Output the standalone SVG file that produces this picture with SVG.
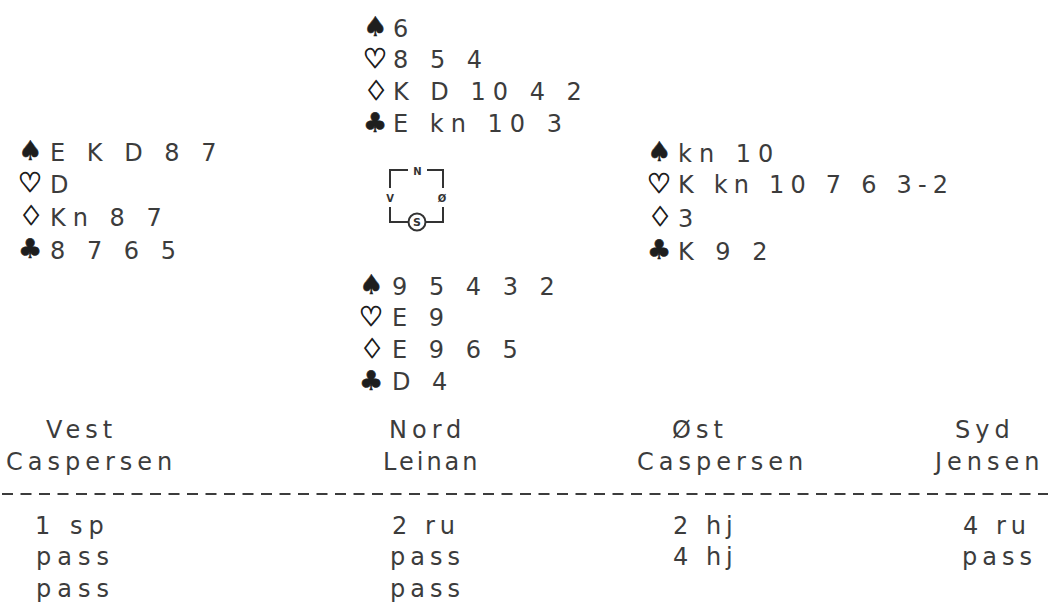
<svg xmlns="http://www.w3.org/2000/svg" width="1055" height="604" viewBox="0 0 1055 604">
<style>
.t{font-family:"DejaVu Sans","Liberation Sans",sans-serif;font-size:24px;letter-spacing:7px;fill:#3c3c3c}
.b{font-family:"DejaVu Sans","Liberation Sans",sans-serif;font-size:24px;letter-spacing:5px;fill:#3c3c3c}
.s{font-family:"DejaVu Sans","Noto Sans",sans-serif;font-size:27px;fill:#1e1e1e;stroke:#1e1e1e;stroke-width:0.6}
.o{font-family:"DejaVu Sans","Noto Sans",sans-serif;font-size:27px;fill:#1e1e1e;stroke:#1e1e1e;stroke-width:1}
.c{font-family:"DejaVu Sans","Liberation Sans",sans-serif;font-weight:bold;fill:#333;text-anchor:middle}
.ln{fill:none;stroke:#333;stroke-width:2}
</style>
<rect width="1055" height="604" fill="#fff"/>
<g id="north">
<text class="s" x="363" y="36">♠</text><text class="t" x="393" y="37">6</text>
<text class="o" x="363" y="68">♡</text><text class="t" x="393" y="68">8 5 4</text>
<text class="o" x="364" y="100">♢</text><text class="t" x="393" y="100">K D 10 4 2</text>
<text class="s" x="363" y="132">♣</text><text class="t" x="393" y="132">E kn 10 3</text>
</g>
<g id="west">
<text class="s" x="18" y="160">♠</text><text class="t" x="50" y="161">E K D 8 7</text>
<text class="o" x="18" y="192">♡</text><text class="t" x="50" y="193">D</text>
<text class="o" x="19" y="225">♢</text><text class="t" x="50" y="226">Kn 8 7</text>
<text class="s" x="18" y="258">♣</text><text class="t" x="50" y="259">8 7 6 5</text>
</g>
<g id="east">
<text class="s" x="647" y="161">♠</text><text class="t" x="678" y="162">kn 10</text>
<text class="o" x="647" y="193">♡</text><text class="t" x="678" y="193" style="letter-spacing:6.2px">K kn 10 7 6 3-2</text>
<text class="o" x="648" y="226">♢</text><text class="t" x="678" y="227">3</text>
<text class="s" x="647" y="259">♣</text><text class="t" x="678" y="260">K 9 2</text>
</g>
<g id="south">
<text class="s" x="359" y="294">♠</text><text class="t" x="392" y="295">9 5 4 3 2</text>
<text class="o" x="359" y="326">♡</text><text class="t" x="392" y="326">E 9</text>
<text class="o" x="360" y="358">♢</text><text class="t" x="392" y="358">E 9 6 5</text>
<text class="s" x="359" y="390">♣</text><text class="t" x="392" y="390">D 4</text>
</g>
<g id="compass">
<path class="ln" d="M390,188V170H408M427,170H443V188M390,207V222H408M426,222H443V207"/>
<circle class="ln" cx="417" cy="222" r="8.5" stroke-width="1.6"/>
<text class="c" x="417.5" y="175" font-size="10">N</text>
<text class="c" x="390" y="202" font-size="10">V</text>
<text class="c" x="442" y="202" font-size="10">Ø</text>
<text class="c" x="417" y="226" font-size="11">S</text>
</g>
<g id="bidding">
<text class="b" x="46" y="438">Vest</text>
<text class="b" x="6" y="470">Caspersen</text>
<text class="b" x="389" y="438">Nord</text>
<text class="b" x="383" y="470" style="letter-spacing:3px">Leinan</text>
<text class="b" x="672" y="438">Øst</text>
<text class="b" x="637" y="470">Caspersen</text>
<text class="b" x="955" y="438">Syd</text>
<text class="b" x="935" y="470">Jensen</text>
<line x1="2" y1="494" x2="1048" y2="494" stroke="#3c3c3c" stroke-width="2" stroke-dasharray="11 7.5"/>
<text class="b" x="35" y="534" style="letter-spacing:6px">1 sp</text>
<text class="b" x="36" y="565" style="letter-spacing:6px">pass</text>
<text class="b" x="36" y="597" style="letter-spacing:6px">pass</text>
<text class="b" x="392" y="534">2 ru</text>
<text class="b" x="390" y="565">pass</text>
<text class="b" x="390" y="597">pass</text>
<text class="b" x="673" y="534">2 hj</text>
<text class="b" x="673" y="565">4 hj</text>
<text class="b" x="963" y="534">4 ru</text>
<text class="b" x="962" y="565">pass</text>
</g>
</svg>
